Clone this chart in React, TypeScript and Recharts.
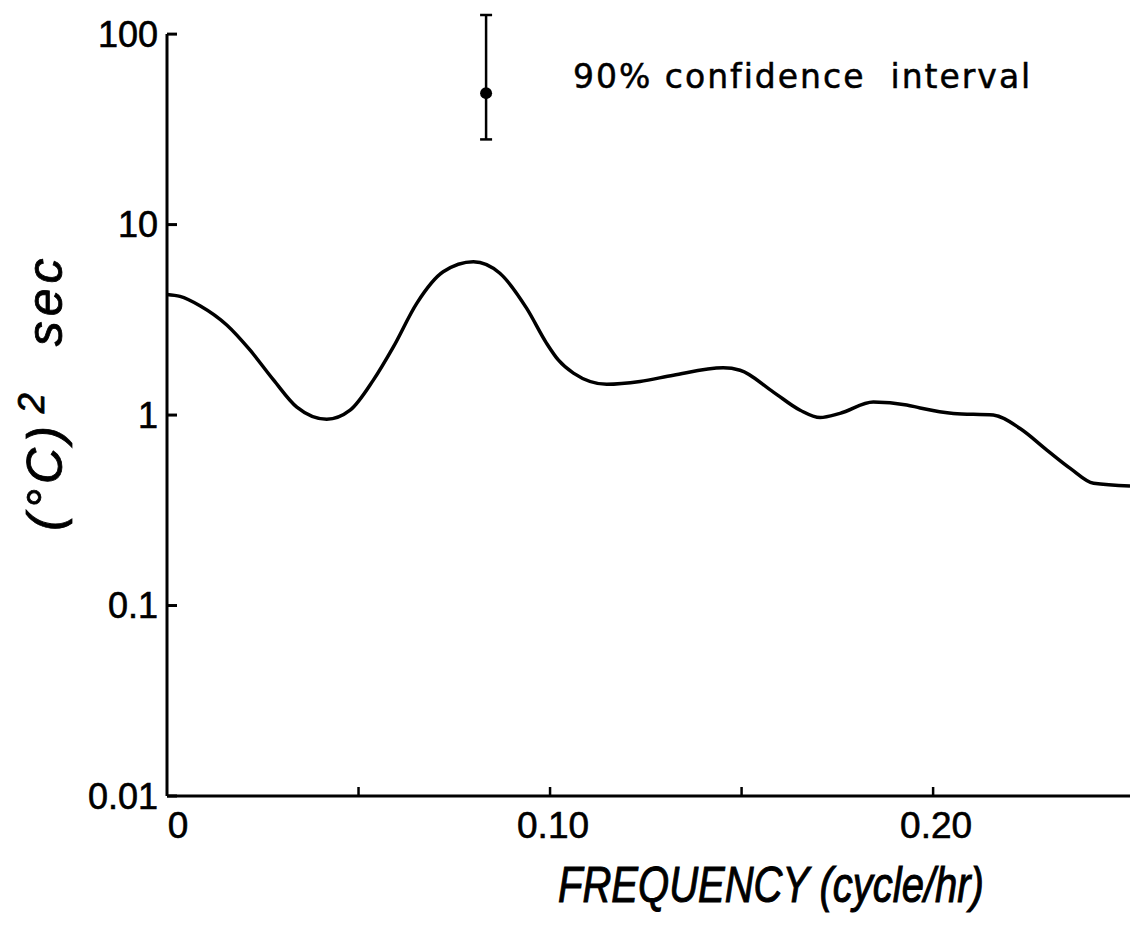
import React from "react";
import {
  ComposedChart,
  Line,
  Scatter,
  ErrorBar,
  XAxis,
  YAxis,
  ReferenceLine,
} from "recharts";

// Spectrum: frequency (cycle/hr) and power ((°C)^2 sec)
const freq = [
  0, 0.0034, 0.0086, 0.0156, 0.0217, 0.0278, 0.0339, 0.0417, 0.0478, 0.0539,
  0.0591, 0.0652, 0.0721, 0.08, 0.0869, 0.0939, 0.0991, 0.1022, 0.1061, 0.1148,
  0.1235, 0.1322, 0.1452, 0.1496, 0.1583, 0.1653, 0.1705, 0.1757, 0.1844,
  0.1931, 0.1966, 0.2053, 0.2157, 0.2227, 0.2297, 0.2358, 0.2419, 0.2514,
];
const power = [
  4.3, 4.2, 3.75, 2.97, 2.19, 1.53, 1.1, 0.95, 1.06, 1.53,
  2.28, 3.86, 5.65, 6.38, 5.55, 3.63, 2.38, 1.94, 1.66, 1.45,
  1.5, 1.62, 1.77, 1.72, 1.32, 1.06, 0.97, 1.02, 1.17,
  1.13, 1.09, 1.02, 1.0, 0.85, 0.655, 0.525, 0.438, 0.424,
];

// 90% confidence interval marker
const ciFreq = 0.0833;
const ciMid = 49;
const ciLow = 28;
const ciHigh = 126;

const xTicks = [0, 0.05, 0.1, 0.15, 0.2];
const xTickLabels = ["0", "", "0.10", "", "0.20"];
const yTicks = [0.01, 0.1, 1, 10, 100];
const yTickLabels = ["0.01", "0.1", "1", "10", "100"];

const spectrum = freq.map((f, i) => ({ f, p: power[i] }));
const ci = [{ f: ciFreq, p: ciMid, err: [ciMid - ciLow, ciHigh - ciMid] }];

const TICK_FONT = "'Liberation Sans', Arial, sans-serif";

function YTick(props: any) {
  const { x, y, payload } = props;
  const i = yTicks.indexOf(payload.value);
  return (
    <g>
      <line x1={x} y1={y} x2={x + 10} y2={y} stroke="#000" strokeWidth={3} />
      <text
        x={x - 9}
        y={y}
        textAnchor="end"
        dominantBaseline="central"
        fontFamily={TICK_FONT}
        fontSize={36}
        stroke="#000"
        strokeWidth={0.6}
        fill="#000"
      >
        {i >= 0 ? yTickLabels[i] : ""}
      </text>
    </g>
  );
}

function XTick(props: any) {
  const { x, y, payload } = props;
  const i = xTicks.indexOf(payload.value);
  const label = i >= 0 ? xTickLabels[i] : "";
  return (
    <g>
      {payload.value !== 0 && (
        <line x1={x} y1={y} x2={x} y2={y - 9} stroke="#000" strokeWidth={2.5} />
      )}
      <text
        x={payload.value === 0 ? x + 11 : x + 3}
        y={y + 29}
        textAnchor="middle"
        dominantBaseline="central"
        fontFamily={TICK_FONT}
        fontSize={37}
        stroke="#000"
        strokeWidth={0.6}
        fill="#000"
      >
        {label}
      </text>
    </g>
  );
}

function YTitle() {
  return (
    <text
      transform="translate(62,392) rotate(-90)"
      textAnchor="middle"
      fontFamily={TICK_FONT}
      fontStyle="italic"
      fontSize={50}
      letterSpacing={5}
      stroke="#000"
      strokeWidth={0.8}
      fill="#000"
    >
      <tspan>(°C)</tspan>
      <tspan dx={8} dy={-18} fontSize={36}>2</tspan>
      <tspan dx={42} dy={18}>sec</tspan>
    </text>
  );
}

function XTitle() {
  return (
    <text
      transform="translate(771,902) scale(1,1.25)"
      textAnchor="middle"
      fontFamily={TICK_FONT}
      fontStyle="italic"
      fontSize={40}
      stroke="#000"
      strokeWidth={0.8}
      fill="#000"
    >
      FREQUENCY (cycle/hr)
    </text>
  );
}

function CiNote() {
  return (
    <text
      x={573}
      y={88}
      fontFamily="'DejaVu Sans', sans-serif"
      fontSize={33}
      letterSpacing={2}
      stroke="#000"
      strokeWidth={0.5}
      fill="#000"
      style={{ whiteSpace: "pre" }}
    >
      {"90% confidence  interval"}
    </text>
  );
}

export default function App() {
  return (
    <div style={{ position: "absolute", left: 0, top: 0, background: "#fff" }}>
      <ComposedChart
        width={1130}
        height={927}
        margin={{ top: 15, right: 0, bottom: 0, left: 0 }}
      >
        <XAxis
          dataKey="f"
          type="number"
          domain={[0, 0.2514]}
          ticks={xTicks}
          interval={0}
          height={131}
          tickSize={0}
          tickMargin={0}
          tickLine={false}
          axisLine={{ stroke: "#000", strokeWidth: 3 }}
          tick={XTick}
          label={{ content: () => <XTitle /> }}
        />
        <YAxis
          type="number"
          scale="log"
          domain={[0.01, 100]}
          ticks={yTicks}
          interval={0}
          width={167}
          tickSize={0}
          tickMargin={0}
          tickLine={false}
          axisLine={false}
          tick={YTick}
          label={{
            content: () => (
              <g>
                <YTitle />
                <CiNote />
              </g>
            ),
          }}
        />
        <ReferenceLine
          segment={[
            { x: 0, y: 0.01 },
            { x: 0, y: 100 },
          ]}
          stroke="#000"
          strokeWidth={3}
        />
        <Line
          data={spectrum}
          dataKey="p"
          type="monotone"
          stroke="#000"
          strokeWidth={3.5}
          dot={false}
          isAnimationActive={false}
        />
        <Scatter
          data={ci}
          dataKey="p"
          fill="#000"
          isAnimationActive={false}
          shape={(p: any) => <circle cx={p.cx} cy={p.cy} r={6} fill="#000" />}
        >
          <ErrorBar
            dataKey="err"
            direction="y"
            width={6}
            stroke="#000"
            strokeWidth={2.5}
            isAnimationActive={false}
          />
        </Scatter>
      </ComposedChart>
    </div>
  );
}
